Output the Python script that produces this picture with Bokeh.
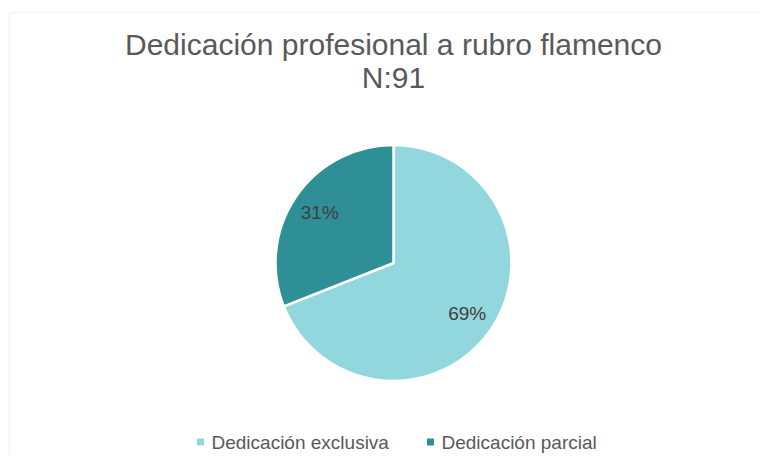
import math
from bokeh.plotting import figure
from bokeh.models import Range1d, ColumnDataSource, BoxAnnotation
from bokeh.core.properties import value
from bokeh.embed import file_html
from bokeh.resources import INLINE

# ---- data ----
title_lines = ["Dedicación profesional a rubro flamenco", "N:91"]
categories = ["Dedicación exclusiva", "Dedicación parcial"]
shares = [69, 31]
colors = ["#92D7DE", "#2E8F96"]

FONT = "Liberation Sans"
TXT = "#595959"

W, H = 760, 455
p = figure(width=W, height=H, output_backend="svg", toolbar_location=None,
           x_range=Range1d(0, W), y_range=Range1d(0, H),
           min_border=0, outline_line_color=None)
p.axis.visible = False
p.grid.visible = False
p.background_fill_color = "white"
p.border_fill_color = "white"


def sy(y):  # image y -> data y
    return H - y


# chart frame (left/top visible, rest cropped)
p.add_layout(BoxAnnotation(left=9, right=W + 50, bottom=-50, top=sy(12),
                           fill_alpha=0, line_color="#D9D9D9", line_width=1.5))

# ---- pie ----
cx, cy, r = 393, sy(262.5), 118
total = sum(shares)
starts, ends, mids = [], [], []
acc = 0.0
for s in shares:
    a0 = math.pi / 2 - 2 * math.pi * acc / total
    a1 = math.pi / 2 - 2 * math.pi * (acc + s) / total
    starts.append(a1)
    ends.append(a0)
    mids.append((a0 + a1) / 2)
    acc += s

src = ColumnDataSource(dict(start=starts, end=ends, color=colors))
p.wedge(x=cx, y=cy, radius=r, start_angle="start", end_angle="end",
        fill_color="color", line_color="white", line_width=2.5, source=src)

lab_r = 0.755 * r
lsrc = ColumnDataSource(dict(
    x=[cx + lab_r * math.cos(m) for m in mids],
    y=[cy + lab_r * math.sin(m) for m in mids],
    t=[f"{s}%" for s in shares]))
p.text(x="x", y="y", text="t", source=lsrc, text_font=value(FONT),
       text_font_size="19px", text_color="#404040", text_align="center",
       text_baseline="middle")

# ---- title ----
tsrc = ColumnDataSource(dict(x=[393, 393], y=[sy(44), sy(77)], t=title_lines))
p.text(x="x", y="y", text="t", source=tsrc, text_font=value(FONT),
       text_font_size="30px", text_color=TXT, text_align="center",
       text_baseline="middle")

# ---- legend ----
leg_x = [200, 430]
leg_y = sy(441.5)
p.scatter(x=leg_x, y=[leg_y] * 2, marker="square", size=7,
          fill_color=colors, line_color=None)
p.text(x=[x + 11 for x in leg_x], y=[leg_y] * 2, text=categories,
       text_font=value(FONT), text_font_size="19px", text_color=TXT,
       text_align="left", text_baseline="middle")

open("out.html", "w").write(file_html(p, INLINE))
